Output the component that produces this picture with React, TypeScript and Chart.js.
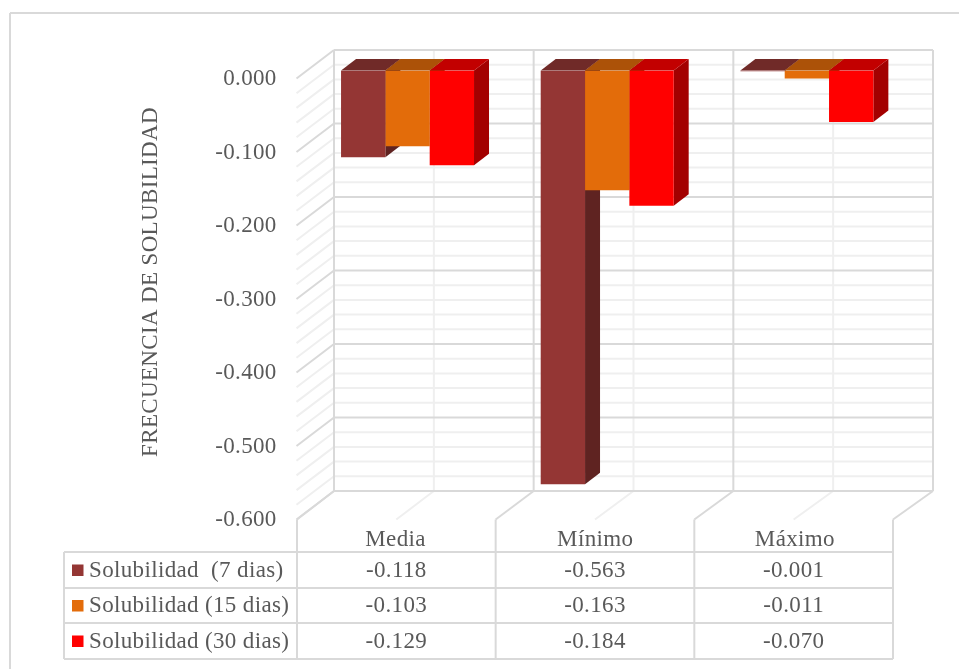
import React, { useEffect, useRef } from "react";
import { Chart, registerables } from "chart.js";

Chart.register(...registerables);

const categories = ["Media", "Mínimo", "Máximo"];
const seriesNames = ["Solubilidad  (7 dias)", "Solubilidad (15 dias)", "Solubilidad (30 dias)"];
const solubilidad7 = [-0.118, -0.563, -0.001];
const solubilidad15 = [-0.103, -0.163, -0.011];
const solubilidad30 = [-0.129, -0.184, -0.07];
const yTicks = [0, -0.1, -0.2, -0.3, -0.4, -0.5, -0.6];
const yMinorStep = 0.02;
const axisTitle = "FRECUENCIA DE SOLUBILIDAD";

const frontColors = ["#943634", "#E36C0A", "#FF0000"];
const topColors = ["#702A28", "#AC5208", "#C20000"];
const sideColors = ["#5F2321", "#914506", "#A30000"];

const TEXT = "#595959";
const MAJOR = "#D9D9D9";
const MINOR = "#EFEFEF";
const FONT_SIZE = 23;
const FONT = `${FONT_SIZE}px "Liberation Serif"`;
const SPACING = "0.35px";

// wall geometry (pixel offsets from the scales)
const BACK_DX = 26.3;
const BACK_DY = -20.5;
const SIDE_DX = -37.5;
const SIDE_DY = 28.5;
const BAR_DX = 15;
const BAR_DY = -11.5;
const FRONT_L = 297;
const FRONT_R = 893;
const TABLE_L = 64;
const TABLE_ROWS = [552, 588, 623, 659];

function line(ctx: CanvasRenderingContext2D, x0: number, y0: number, x1: number, y1: number, color: string, w = 2) {
  ctx.strokeStyle = color;
  ctx.lineWidth = w;
  ctx.beginPath();
  ctx.moveTo(x0, y0);
  ctx.lineTo(x1, y1);
  ctx.stroke();
}

function poly(ctx: CanvasRenderingContext2D, pts: number[][], color: string) {
  ctx.fillStyle = color;
  ctx.beginPath();
  pts.forEach((p, i) => (i ? ctx.lineTo(p[0], p[1]) : ctx.moveTo(p[0], p[1])));
  ctx.closePath();
  ctx.fill();
}

const threeD = {
  id: "threeD",
  beforeDraw(chart: any) {
    (chart.ctx as any).letterSpacing = SPACING;
  },
  beforeDatasetsDraw(chart: any) {
    const ctx: CanvasRenderingContext2D = chart.ctx;
    const { x, y } = chart.scales;
    ctx.save();
    const L = x.left + BACK_DX;
    const R = x.right + BACK_DX;
    const bottom = y.getPixelForValue(yTicks[yTicks.length - 1]) + BACK_DY;
    const top = y.getPixelForValue(yTicks[0]) + BACK_DY;
    const n = categories.length;
    const frontX = (i: number) => FRONT_L + ((FRONT_R - FRONT_L) * i) / n;
    const backX = (i: number) => L + ((R - L) * i) / n;

    // minor gridlines
    const steps = Math.round((yTicks[0] - yTicks[yTicks.length - 1]) / yMinorStep);
    for (let i = 0; i <= steps; i++) {
      if (i % 5 === 0) continue;
      const py = y.getPixelForValue(-i * yMinorStep) + BACK_DY;
      line(ctx, L, py, R, py, MINOR);
      line(ctx, L, py, L + SIDE_DX, py + SIDE_DY, MINOR);
    }
    for (let i = 0; i < n; i++) {
      const mx = backX(i + 0.5);
      line(ctx, mx, top, mx, bottom, MINOR);
      line(ctx, mx, bottom, frontX(i + 0.5), bottom + SIDE_DY, MINOR);
    }
    // major gridlines
    yTicks.forEach((v) => {
      const py = y.getPixelForValue(v) + BACK_DY;
      line(ctx, L, py, R, py, MAJOR);
      line(ctx, L, py, L + SIDE_DX, py + SIDE_DY, MAJOR);
    });
    for (let i = 0; i <= n; i++) {
      line(ctx, backX(i), top, backX(i), bottom, MAJOR);
      line(ctx, backX(i), bottom, frontX(i), bottom + SIDE_DY, MAJOR);
      line(ctx, frontX(i), bottom + SIDE_DY, frontX(i), TABLE_ROWS[TABLE_ROWS.length - 1], MAJOR);
    }
    // table rules
    TABLE_ROWS.forEach((py) => line(ctx, TABLE_L, py, FRONT_R, py, MAJOR));
    line(ctx, TABLE_L, TABLE_ROWS[0], TABLE_L, TABLE_ROWS[TABLE_ROWS.length - 1], MAJOR);

    // outer frame
    line(ctx, 10, 13, 959, 13, MAJOR);
    line(ctx, 10, 13, 10, 669, MAJOR);

    // axis title
    ctx.save();
    ctx.fillStyle = TEXT;
    ctx.font = FONT;
    ctx.textAlign = "center";
    ctx.textBaseline = "middle";
    ctx.translate(151, 282);
    ctx.rotate(-Math.PI / 2);
    ctx.fillText(axisTitle, 0, 0);
    ctx.restore();

    // data table text
    ctx.font = FONT;
    ctx.textBaseline = "middle";
    chart.data.datasets.forEach((ds: any, r: number) => {
      const cy = (TABLE_ROWS[r] + TABLE_ROWS[r + 1]) / 2 + 0.5;
      ctx.fillStyle = frontColors[r];
      ctx.fillRect(72, cy - 6, 11.5, 11.5);
      ctx.fillStyle = TEXT;
      ctx.textAlign = "left";
      ctx.fillText(seriesNames[r], 89, cy);
      ctx.textAlign = "center";
      ds.data.forEach((v: number, c: number) => {
        ctx.fillText(v.toFixed(3), frontX(c + 0.5), cy);
      });
    });

    // 3D faces of the bars, back to front; the library paints the front faces over them
    chart.data.datasets.forEach((_: any, d: number) => {
      chart.getDatasetMeta(d).data.forEach((bar: any) => {
        const x0 = bar.x - bar.width / 2;
        const x1 = bar.x + bar.width / 2;
        const b = bar.base;
        const v = bar.y;
        poly(ctx, [[x1, b], [x1 + BAR_DX, b + BAR_DY], [x1 + BAR_DX, v + BAR_DY], [x1, v]], sideColors[d]);
        poly(ctx, [[x0, b], [x0 + BAR_DX, b + BAR_DY], [x1 + BAR_DX, b + BAR_DY], [x1, b]], topColors[d]);
      });
    });
    ctx.restore();
  },
};

export default function App() {
  const ref = useRef<HTMLCanvasElement>(null);
  useEffect(() => {
    const chart = new Chart(ref.current!, {
      type: "bar",
      data: {
        labels: categories,
        datasets: [solubilidad7, solubilidad15, solubilidad30].map((data, i) => ({
          label: seriesNames[i],
          data,
          backgroundColor: frontColors[i],
          borderWidth: 0,
          categoryPercentage: 0.666,
          barPercentage: 1,
        })),
      },
      options: {
        animation: false,
        responsive: false,
        devicePixelRatio: 1,
        layout: { padding: { left: 187.7, right: 52.3, top: 70.5, bottom: 97.5 } },
        plugins: { legend: { display: false }, tooltip: { enabled: false }, title: { display: false } },
        scales: {
          x: {
            afterFit: (s: any) => {
              s.height = 60;
            },
            grid: { display: false, drawTicks: false },
            border: { display: false },
            ticks: {
              color: TEXT,
              font: { family: "Liberation Serif", size: FONT_SIZE },
              padding: 15,
              labelOffset: -12,
              maxRotation: 0,
              autoSkip: false,
            },
          },
          y: {
            min: -0.6,
            max: 0,
            afterFit: (s: any) => {
              s.width = 120;
            },
            afterBuildTicks: (s: any) => {
              s.ticks = yTicks.map((value) => ({ value }));
            },
            grid: { display: false, drawTicks: false },
            border: { display: false },
            ticks: {
              color: TEXT,
              font: { family: "Liberation Serif", size: FONT_SIZE },
              padding: 31,
              labelOffset: 8.5,
              callback: (v: any) => Number(v).toFixed(3),
            },
          },
        },
      },
      plugins: [threeD],
    } as any);
    return () => chart.destroy();
  }, []);
  return (
    <canvas
      ref={ref}
      width={959}
      height={669}
      style={{ position: "absolute", left: 0, top: 0, display: "block", background: "#fff" }}
    />
  );
}
